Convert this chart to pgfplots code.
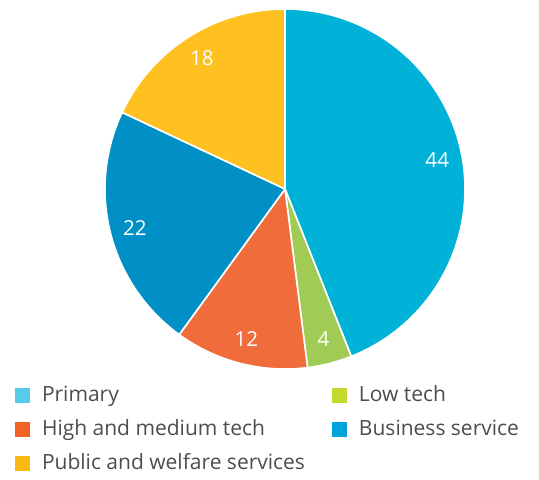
\documentclass[border=0pt]{standalone}
\usepackage{pgfplots}
\pgfplotsset{compat=1.18}
\usepackage{pgfplotstable}
\usepackage{fontspec}
\setmainfont{Open Sans}

\definecolor{cPri}{HTML}{00B2D8}
\definecolor{cLow}{HTML}{A0CB54}
\definecolor{cHigh}{HTML}{F06C3A}
\definecolor{cBus}{HTML}{0090C5}
\definecolor{cPub}{HTML}{FFC11F}
\definecolor{lPri}{HTML}{56CBEA}
\definecolor{lLow}{HTML}{C5D92D}
\definecolor{lHigh}{HTML}{F26125}
\definecolor{lBus}{HTML}{00A3DA}
\definecolor{lPub}{HTML}{FDB913}
\definecolor{TextGray}{HTML}{4D4D4F}

% share of each sector, clockwise from 12 o'clock
\pgfplotstableread{
value color
44 cPri
4  cLow
12 cHigh
22 cBus
18 cPub
}\piedata

\tikzset{pielabel/.style={font=\fontsize{10.3}{12}\selectfont, text=white, inner sep=0pt}}

\begin{document}
\begin{tikzpicture}
\begin{axis}[
    scale only axis,
    width=269.5pt, height=239.5pt,
    xmin=0, xmax=539, ymin=0, ymax=479,
    axis line style={draw=none},
    xtick=\empty, ytick=\empty,
    clip=false,
    legend columns=2,
    legend image code/.code={\fill[#1, draw=none] (0pt,-0.75pt) rectangle (7.5pt,6.75pt);},
    legend style={
        at={(axis description cs:0.02783,0.1942)}, anchor=north west,
        draw=none, fill=none, inner sep=0pt, outer sep=0pt,
        font=\fontsize{10.5}{12}\selectfont, text=TextGray,
        cells={anchor=base west},
        nodes={inner sep=0pt, outer sep=0pt, text height=8pt, text depth=2.5pt},
        row sep=6.5pt,
        /tikz/every odd column/.append style={column sep=6pt},
        /tikz/column 2/.append style={column sep=13.5pt},
    },
]
\def\cum{0}
\pgfplotsforeachungrouped \i in {0,...,4}{
  \pgfplotstablegetelem{\i}{value}\of\piedata \let\v\pgfplotsretval
  \pgfplotstablegetelem{\i}{color}\of\piedata \let\c\pgfplotsretval
  \pgfmathsetmacro\a{90-3.6*\cum}
  \pgfmathsetmacro\b{90-3.6*(\cum+\v)}
  \pgfmathsetmacro\m{(\a+\b)/2}
  \pgfmathsetmacro\lx{285+155*cos(\m)}
  \pgfmathsetmacro\ly{290+155*sin(\m)}
  \edef\doit{%
    \noexpand\addplot[forget plot, fill=\c, draw=white, line width=0.8pt,
      domain=\a:\b, samples=90]
      ({285+180*cos(x)},{290+180*sin(x)}) -- (axis cs:285,290) -- cycle;
    \noexpand\node[pielabel] at (axis cs:\lx,\ly) {\v};
  }\doit
  \pgfmathsetmacro\cum{\cum+\v}
}
\addlegendimage{fill=lPri}\addlegendentry{Primary}
\addlegendimage{fill=lLow}\addlegendentry{Low tech}
\addlegendimage{fill=lHigh}\addlegendentry{High and medium tech}
\addlegendimage{fill=lBus}\addlegendentry{Business service}
\addlegendimage{fill=lPub}\addlegendentry{Public and welfare services}
\end{axis}
\end{tikzpicture}
\end{document}
